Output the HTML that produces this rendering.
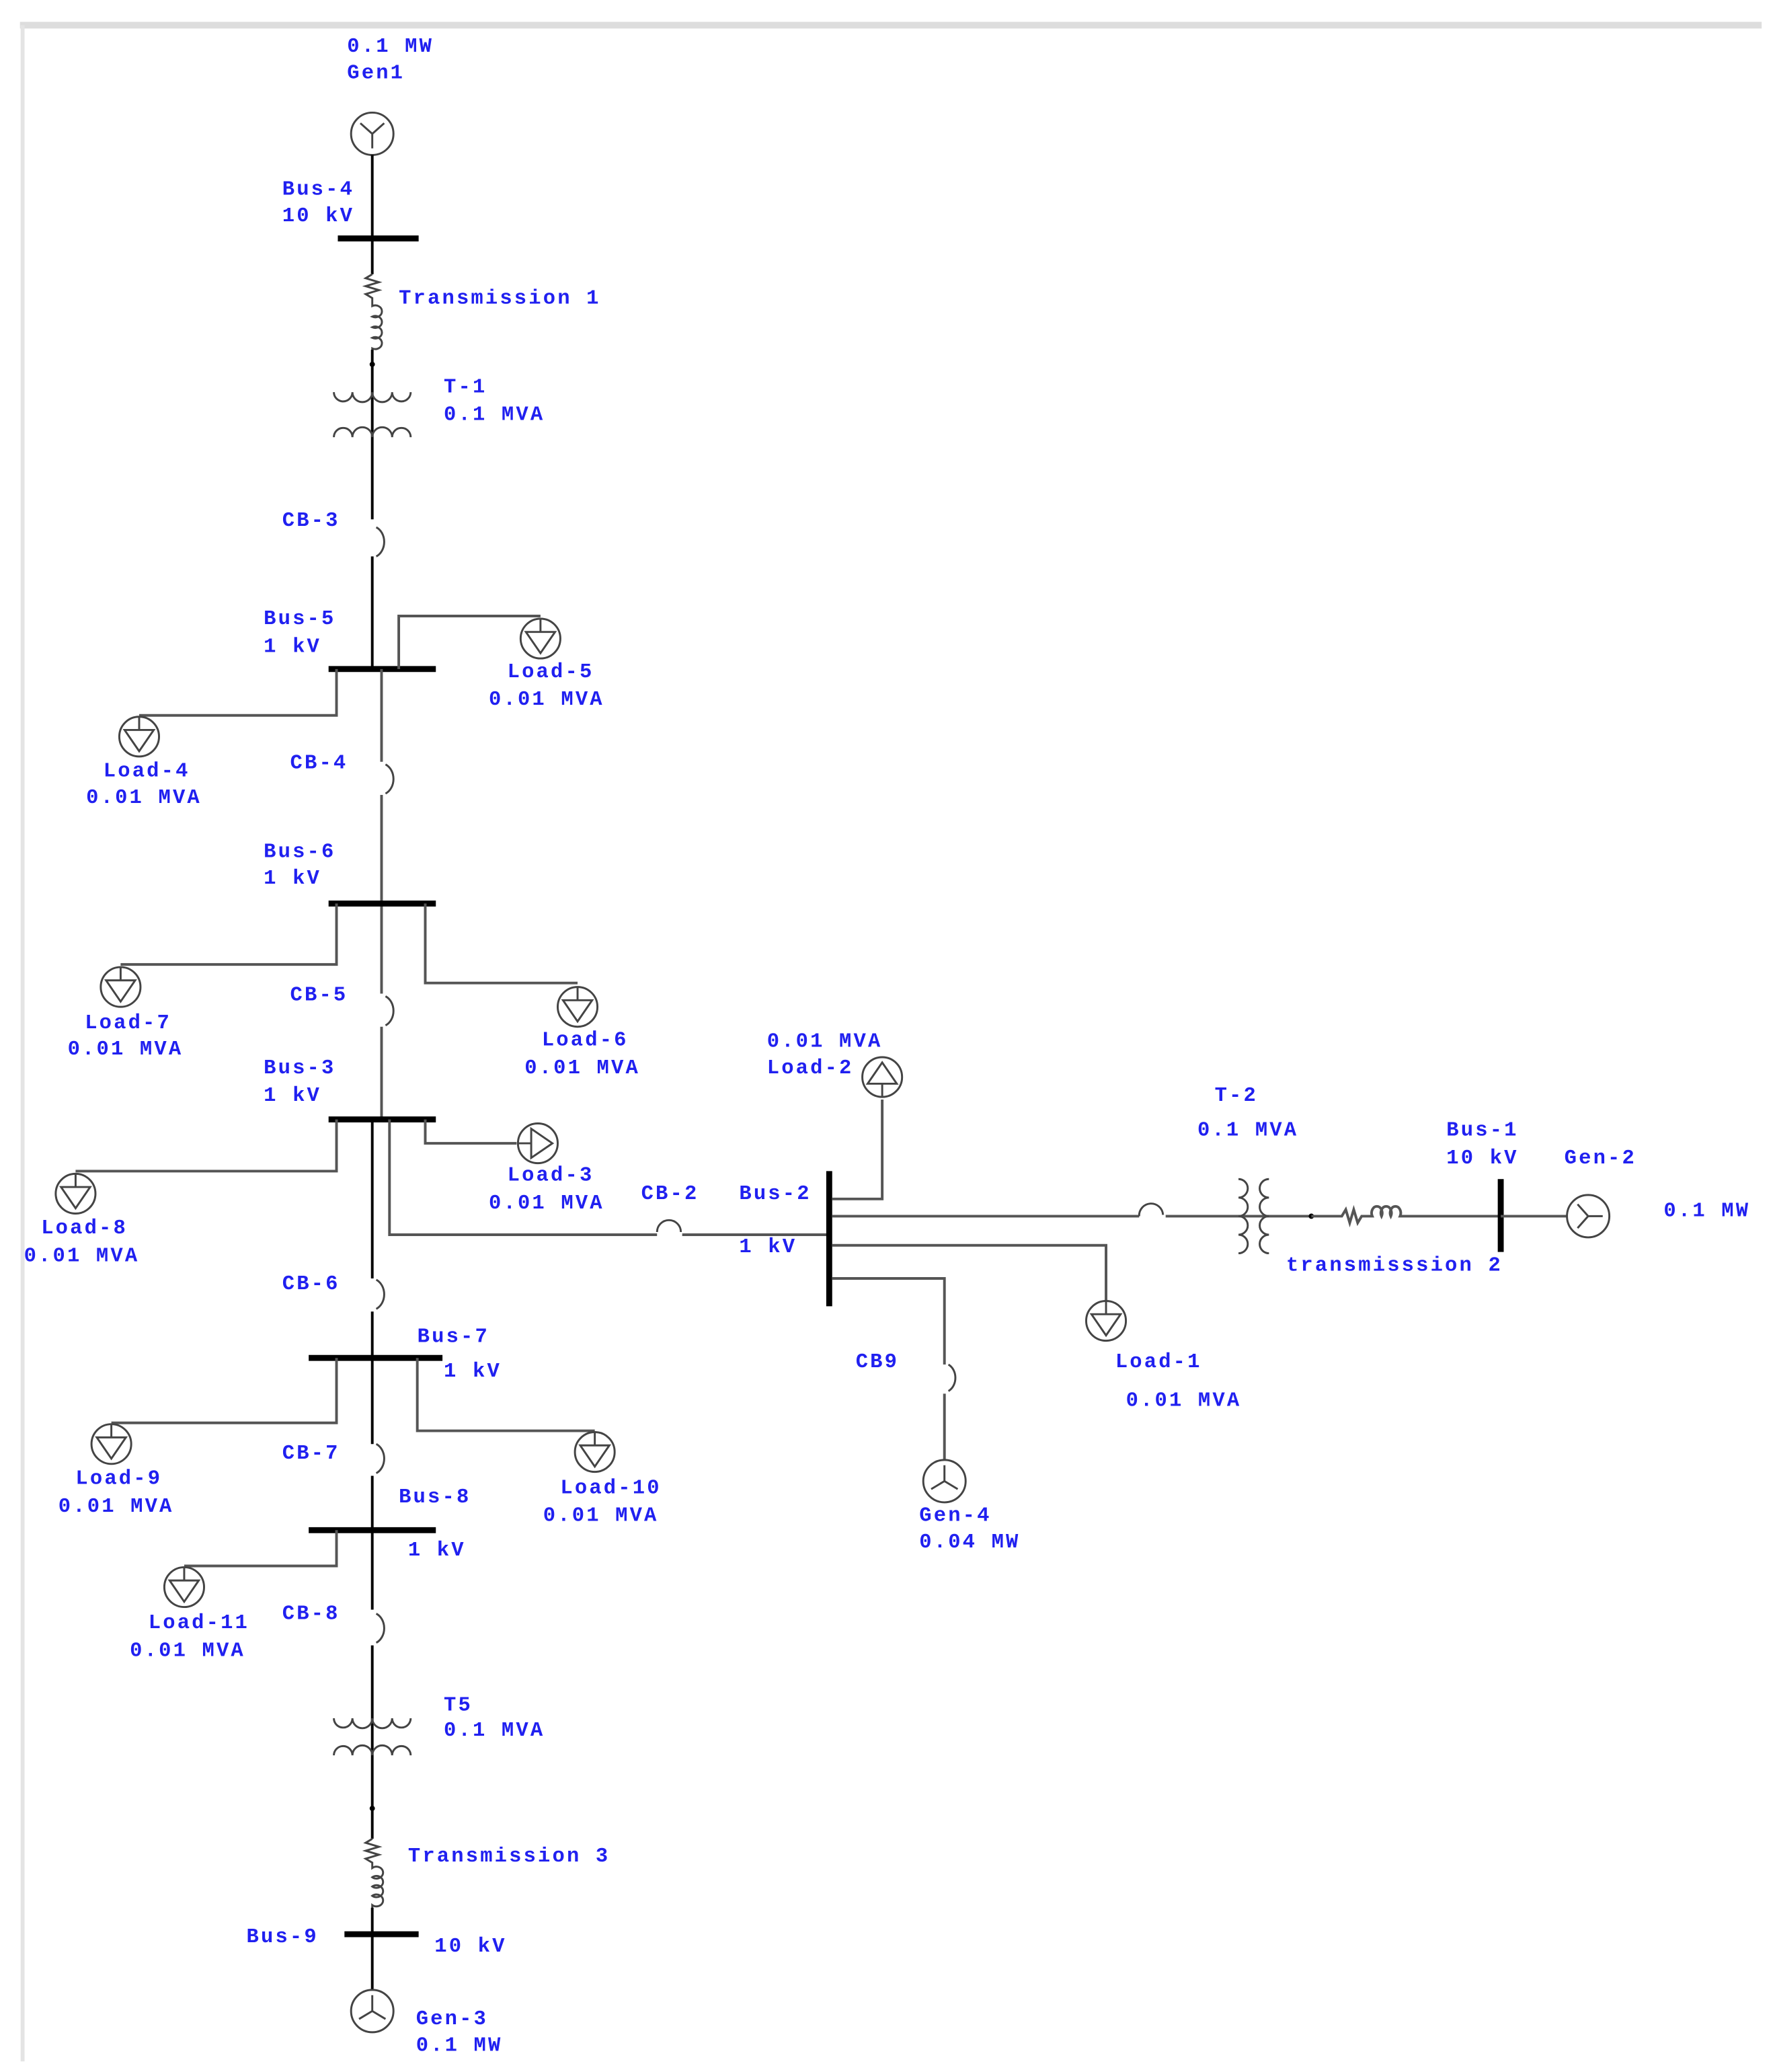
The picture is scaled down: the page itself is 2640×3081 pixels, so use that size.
<!DOCTYPE html>
<html><head><style>
html,body{margin:0;padding:0;background:#fff}
svg{display:block}
text{font-family:"Liberation Mono",monospace;font-weight:bold;font-size:15.5px;fill:#2020f0;letter-spacing:1.6px;dominant-baseline:middle}
.k{stroke:#000;stroke-width:2;fill:none}
.g{stroke:#555;stroke-width:2;fill:none}
.b{stroke:#000;stroke-width:4.5;fill:none}
.s{stroke:#444;stroke-width:1.5;fill:none}
</style></head><body>
<svg width="2640" height="3081" viewBox="0 0 1340 1564" xmlns="http://www.w3.org/2000/svg">
<defs>
<g id="ld"><circle r="15" class="s" fill="#fff"/><path d="M-11,-5 L11,-5 L0,11 Z M-11,-5 L11,-5 M0,-15 L0,-5" class="s"/></g>
<g id="gen"><circle r="16" class="s" fill="#fff"/><path d="M0,0 L-9,-8 M0,0 L9,-8 M0,0 L0,11" class="s"/></g>
<g id="gen3"><circle r="16" class="s" fill="#fff"/><path d="M0,0 L0,-12 M0,0 L-10,6 M0,0 L10,6" class="s"/></g>
</defs>
<line x1="15" y1="19" x2="1330" y2="19" stroke="#ddd" stroke-width="5"/>
<line x1="17" y1="19" x2="17" y2="1556" stroke="#e4e4e4" stroke-width="3"/>

<!-- Gen1 / Bus-4 / Trans1 / T-1 -->
<use href="#gen" x="281" y="101"/>
<text x="262" y="35">0.1 MW</text><text x="262" y="55">Gen1</text>
<line x1="281" y1="117" x2="281" y2="207" class="k"/>
<line x1="255" y1="180" x2="316" y2="180" class="b"/>
<text x="213" y="143">Bus-4</text><text x="213" y="163">10 kV</text>
<path d="M281,207 l-5,3 l10,3 l-10,3 l10,3 l-10,3 l5,3 v6 a5,4.5 0 1 1 0,8 a5,4.5 0 1 1 0,8 a5,4.5 0 1 1 0,8 a5,4.5 0 1 1 0,8 v6" class="s"/>
<line x1="281" y1="264" x2="281" y2="275" class="k"/>
<circle cx="281" cy="275" r="2" fill="#000"/>
<text x="301" y="225">Transmission 1</text>
<line x1="281" y1="275" x2="281" y2="392" class="k"/>
<path d="M252,296 a7,7 0 0 0 14,0 a7,7 0 0 0 15,0 a7,7 0 0 0 15,0 a7,7 0 0 0 14,0" class="s"/>
<path d="M252,330 a7,7 0 0 1 14,0 a7,7 0 0 1 15,0 a7,7 0 0 1 15,0 a7,7 0 0 1 14,0" class="s"/>
<text x="335" y="292">T-1</text><text x="335" y="313">0.1 MVA</text>
<text x="213" y="393">CB-3</text>
<path d="M284,398 a10,12 0 0 1 0,22" class="s"/>
<line x1="281" y1="420" x2="281" y2="505" class="k"/>

<!-- Bus-5 -->
<line x1="248" y1="505" x2="329" y2="505" class="b"/>
<text x="199" y="467">Bus-5</text><text x="199" y="488">1 kV</text>
<path d="M301,505 V465 H408" class="g"/><use href="#ld" x="408" y="482"/>
<text x="383" y="507">Load-5</text><text x="369" y="528">0.01 MVA</text>
<path d="M254,505 V540 H105" class="g"/><use href="#ld" x="105" y="556"/>
<text x="78" y="582">Load-4</text><text x="65" y="602">0.01 MVA</text>
<line x1="288" y1="505" x2="288" y2="575" class="g"/>
<path d="M291,577 a10,12 0 0 1 0,22" class="s"/>
<text x="219" y="576">CB-4</text>
<line x1="288" y1="600" x2="288" y2="750" class="g"/>

<!-- Bus-6 -->
<line x1="248" y1="682" x2="329" y2="682" class="b"/>
<text x="199" y="643">Bus-6</text><text x="199" y="663">1 kV</text>
<path d="M254,682 V728 H91" class="g"/><use href="#ld" x="91" y="745"/>
<text x="64" y="772">Load-7</text><text x="51" y="792">0.01 MVA</text>
<path d="M321,682 V742 H436" class="g"/><use href="#ld" x="436" y="760"/>
<text x="409" y="785">Load-6</text><text x="396" y="806">0.01 MVA</text>
<path d="M291,752 a10,12 0 0 1 0,22" class="s"/>
<text x="219" y="751">CB-5</text>
<line x1="288" y1="775" x2="288" y2="845" class="g"/>

<!-- Bus-3 -->
<line x1="248" y1="845" x2="329" y2="845" class="b"/>
<text x="199" y="806">Bus-3</text><text x="199" y="827">1 kV</text>
<path d="M254,845 V884 H57" class="g"/><use href="#ld" x="57" y="901"/>
<text x="31" y="927">Load-8</text><text x="18" y="948">0.01 MVA</text>
<path d="M321,845 V863 H390" class="g"/>
<g transform="translate(406,863) rotate(-90)"><use href="#ld"/></g>
<text x="383" y="887">Load-3</text><text x="369" y="908">0.01 MVA</text>
<path d="M294,845 V932 H496" class="g"/>
<path d="M496,930 a9,9 0 0 1 18,0" class="s"/>
<path d="M515,932 H626" class="g"/>
<text x="484" y="901">CB-2</text>
<line x1="281" y1="845" x2="281" y2="965" class="k"/>
<text x="213" y="969">CB-6</text>
<path d="M284,966 a10,12 0 0 1 0,22" class="s"/>
<line x1="281" y1="990" x2="281" y2="1090" class="k"/>

<!-- Bus-2 -->
<line x1="626" y1="884" x2="626" y2="986" class="b" stroke-width="3.5"/>
<text x="558" y="901">Bus-2</text><text x="558" y="941">1 kV</text>
<path d="M628,905 H666 V830" class="g"/>
<g transform="translate(666,813) rotate(180)"><use href="#ld"/></g>
<text x="579" y="786">0.01 MVA</text><text x="579" y="806">Load-2</text>
<path d="M628,918 H860" class="g" stroke-width="2.5"/>
<path d="M860,918 a9,9 0 0 1 18,-1" class="s"/>
<path d="M880,918 H990" class="g" stroke-width="2.5"/>
<path d="M935,890 a6,6 0 0 1 0,14 a6,6 0 0 1 0,14 a6,6 0 0 1 0,14 a6,6 0 0 1 0,14" class="s"/>
<path d="M958,890 a6,6 0 0 0 0,14 a6,6 0 0 0 0,14 a6,6 0 0 0 0,14 a6,6 0 0 0 0,14" class="s"/>
<circle cx="990" cy="918" r="2" fill="#000"/>
<path d="M990,918 H1013 l3,-5 l3,10 l3,-10 l3,10 l3,-5 h8 a4,5 0 1 1 7,0 a4,5 0 1 1 7,0 a4,5 0 1 1 7,0 H1133" class="g" stroke-width="1.6"/>
<line x1="1133" y1="890" x2="1133" y2="945" class="b" stroke-width="3"/>
<line x1="1133" y1="918" x2="1183" y2="918" class="g"/>
<g transform="translate(1199,918) rotate(-90)"><use href="#gen"/></g>
<text x="917" y="827">T-2</text><text x="904" y="853">0.1 MVA</text>
<text x="1092" y="853">Bus-1</text><text x="1092" y="874">10 kV</text>
<text x="1181" y="874">Gen-2</text><text x="1256" y="914">0.1 MW</text>
<text x="971" y="955">transmisssion 2</text>
<path d="M628,940 H835 V982" class="g"/><use href="#ld" x="835" y="997"/>
<text x="842" y="1028">Load-1</text><text x="850" y="1057">0.01 MVA</text>
<path d="M628,965 H713 V1030" class="g"/>
<path d="M716,1030 a9,11 0 0 1 0,20" class="s"/>
<line x1="713" y1="1052" x2="713" y2="1102" class="g"/>
<use href="#gen3" x="713" y="1118"/>
<text x="646" y="1028">CB9</text>
<text x="694" y="1144">Gen-4</text><text x="694" y="1164">0.04 MW</text>

<!-- Bus-7 -->
<line x1="233" y1="1025" x2="334" y2="1025" class="b"/>
<text x="315" y="1009">Bus-7</text><text x="335" y="1035">1 kV</text>
<path d="M254,1025 V1074 H84" class="g"/><use href="#ld" x="84" y="1090"/>
<text x="57" y="1116">Load-9</text><text x="44" y="1137">0.01 MVA</text>
<path d="M315,1025 V1080 H449" class="g"/><use href="#ld" x="449" y="1096"/>
<text x="423" y="1123">Load-10</text><text x="410" y="1144">0.01 MVA</text>
<text x="213" y="1097">CB-7</text>
<path d="M284,1090 a10,12 0 0 1 0,22" class="s"/>
<line x1="281" y1="1114" x2="281" y2="1215" class="k"/>

<!-- Bus-8 -->
<line x1="233" y1="1155" x2="329" y2="1155" class="b" stroke-width="3.5"/>
<text x="301" y="1130">Bus-8</text><text x="308" y="1170">1 kV</text>
<path d="M254,1155 V1182 H139" class="g"/><use href="#ld" x="139" y="1198"/>
<text x="112" y="1225">Load-11</text><text x="98" y="1246">0.01 MVA</text>
<text x="213" y="1218">CB-8</text>
<path d="M284,1218 a10,12 0 0 1 0,22" class="s"/>
<line x1="281" y1="1242" x2="281" y2="1388" class="k"/>
<path d="M252,1297 a7,7 0 0 0 14,0 a7,7 0 0 0 15,0 a7,7 0 0 0 15,0 a7,7 0 0 0 14,0" class="s"/>
<path d="M252,1325 a7,7 0 0 1 14,0 a7,7 0 0 1 15,0 a7,7 0 0 1 15,0 a7,7 0 0 1 14,0" class="s"/>
<text x="335" y="1287">T5</text><text x="335" y="1306">0.1 MVA</text>
<circle cx="281" cy="1365" r="2" fill="#000"/>
<path d="M281,1388 l-5,3 l10,3 l-10,3 l10,3 l-10,3 l5,3 v4 a5,4.5 0 1 1 0,7 a5,4.5 0 1 1 0,7 a5,4.5 0 1 1 0,7 a5,4.5 0 1 1 0,7 v4" class="s"/>
<text x="308" y="1401">Transmission 3</text>
<line x1="281" y1="1440" x2="281" y2="1502" class="k"/>
<line x1="260" y1="1460" x2="316" y2="1460" class="b" stroke-width="5"/>
<text x="186" y="1462">Bus-9</text><text x="328" y="1469">10 kV</text>
<use href="#gen3" x="281" y="1518"/>
<text x="314" y="1524">Gen-3</text><text x="314" y="1544">0.1 MW</text>
</svg>
</body></html>
